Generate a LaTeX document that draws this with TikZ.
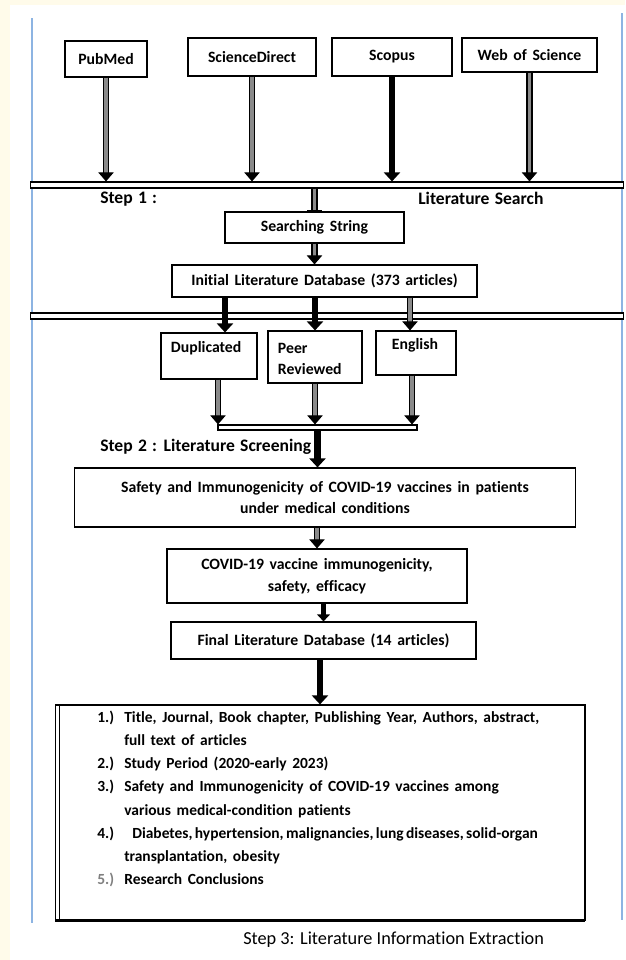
\documentclass[tikz,border=0pt]{standalone}
\usepackage{fontspec}
\setmainfont{Carlito}[Ligatures=NoCommon]
\usepackage{tikz}
\usetikzlibrary{arrows.meta, positioning, calc}
\definecolor{pageCream}{HTML}{FFFBEA}
\definecolor{frameBlue}{HTML}{8DB4E2}
\definecolor{shaftGray}{HTML}{8A8A8A}
\newcommand{\boxfont}{\fontsize{11.2}{15.5}\selectfont\bfseries\spaceskip=0.36em\relax}
\newcommand{\listfont}{\fontsize{11}{16.4}\selectfont\bfseries\spaceskip=0.36em\relax}
\newcommand{\stepfont}{\fontsize{12.5}{14}\selectfont\bfseries\spaceskip=0.3em\relax}

\begin{document}
\begin{tikzpicture}[
    x=0.025cm, y=-0.025cm,
    srcbox/.style={
        rectangle,
        draw=black,
        fill=white,
        line width=0.8pt,
        inner sep=0pt,
        align=center,
        font=\boxfont
    },
    filterbox/.style={
        rectangle,
        draw=black,
        fill=white,
        line width=0.8pt,
        inner xsep=0.25cm,
        inner ysep=0pt,
        align=left,
        font=\boxfont
    },
    splitbar/.style={
        rectangle,
        draw=black,
        fill=white,
        line width=0.8pt,
        inner sep=0pt,
        minimum height=0.15cm
    },
    steplabel/.style={
        anchor=west,
        inner sep=0pt,
        font=\stepfont
    },
    hollowarrow/.style={
        draw=black,
        line width=0.85pt,
        double=shaftGray,
        double distance=2.8pt,
        -{Triangle[width=11pt,length=6.5pt]}
    },
    solidarrow/.style={
        line width=4.6pt,
        -{Triangle[width=11.5pt,length=6.5pt]}
    }
]

% Page and frame
\useasboundingbox (0,0) rectangle (625,960);
\fill[pageCream] (0,0) rectangle (625,960);
\fill[white] (10,5) rectangle (625,960);
\draw[frameBlue, line width=1.4pt] (32,18) -- (32,923);
\draw[frameBlue, line width=1.4pt] (622,13) -- (622,920);

% Sources
\node[srcbox, minimum width=2.05cm, minimum height=0.9cm] (pubmed) at (106,59) {PubMed};
\node[srcbox, minimum width=3.2cm, minimum height=0.95cm] (scidirect) at (252,57) {ScienceDirect};
\node[srcbox, minimum width=3.0cm, minimum height=0.95cm] (scopus) at (392,57) {Scopus};
\node[srcbox, minimum width=3.375cm, minimum height=0.85cm] (wos) at (529.5,55) {Web of Science};

% Bars
\node[splitbar, minimum width=14.8cm] (bar1) at (327,185) {};
\node[splitbar, minimum width=14.8cm] (bar2) at (327,316) {};
\node[splitbar, minimum width=4.975cm, minimum height=0.125cm] (bar3) at (317.5,427.5) {};

% Step 1
\node[steplabel] (step1) at (100,199) {Step 1 :};
\node[steplabel] (search1) at (418,198) {Literature Search};

\node[srcbox, minimum width=4.475cm, minimum height=0.775cm] (search) at (314.5,227.5) {Searching String};
\node[srcbox, minimum width=7.625cm, minimum height=0.8cm] (initial) at (324.5,281) {Initial Literature Database (373 articles)};

% Filters
\node[filterbox, text width=1.9cm, text height=0.475cm, text depth=0.675cm] (duplicated) at (209,356) {Duplicated};
\node[filterbox, text width=1.85cm, text height=0.55cm, text depth=0.75cm] (peer) at (315,357) {Peer\\Reviewed};
\node[filterbox, inner xsep=0.4cm, text width=1.2cm, text height=0.45cm, text depth=0.65cm] (english) at (416,353) {English};

% Step 2
\node[steplabel] (step2) at (100,447) {Step 2 : Literature Screening};

\node[srcbox, minimum width=12.5cm, minimum height=1.475cm] (safety) at (325,497.5) {Safety and Immunogenicity of COVID-19 vaccines in patients\\under medical conditions};
\node[srcbox, minimum width=7.5cm, minimum height=1.35cm] (covid) at (317,576) {COVID-19 vaccine immunogenicity,\\safety, efficacy};
\node[srcbox, minimum width=7.625cm, minimum height=0.925cm] (final) at (323.5,640.5) {Final Literature Database (14 articles)};

% Step 3
\node[srcbox, minimum width=13.2cm, minimum height=5.375cm] (extract) at (320,812.5) {};
\draw[line width=0.8pt] ([xshift=0.1cm]extract.north west) -- ([xshift=0.1cm]extract.south west);
\draw[line width=2pt] (extract.south west) -- (extract.south east);
\draw[line width=1.4pt] (extract.south east) -- (extract.north east);
\node[anchor=north west, inner sep=0pt, align=left, font=\listfont] (items) at (97,711) {
\makebox[0.675cm][l]{1.)}Title, Journal, Book chapter, Publishing Year, Authors, abstract,\\
\hspace*{0.675cm}full text of articles\\
\makebox[0.675cm][l]{2.)}Study Period (2020-early 2023)\\
\makebox[0.675cm][l]{3.)}Safety and Immunogenicity of COVID-19 vaccines among\\
\hspace*{0.675cm}various medical-condition patients\\
\makebox[0.675cm][l]{4.)}\hspace{0.2cm}{\spaceskip=0.15em\relax Diabetes, hypertension, malignancies, lung diseases, solid-organ}\\
\hspace*{0.675cm}transplantation, obesity\\
\makebox[0.675cm][l]{\textcolor{gray}{5.)}}Research Conclusions
};
\node[anchor=west, inner sep=0pt, font=\fontsize{13}{15}\selectfont] (step3) at (243,940) {Step 3: Literature Information Extraction};

% Arrows into the first bar
\draw[hollowarrow] (pubmed.south) -- (pubmed.south |- bar1.north);
\draw[hollowarrow] (scidirect.south) -- (scidirect.south |- bar1.north);
\draw[solidarrow] (scopus.south) -- (scopus.south |- bar1.north);
\draw[hollowarrow] (wos.south) -- (wos.south |- bar1.north);

\draw[hollowarrow, -{Rectangle[width=10pt,length=1.2pt]}] (search.north |- bar1.south) -- (search.north);
\draw[hollowarrow] (search.south) -- (search.south |- initial.north);

% Arrows through the second bar
\draw[solidarrow] ([xshift=0.4cm]duplicated.north |- initial.south) -- ([xshift=0.4cm]duplicated.north);
\draw[solidarrow] (peer.north |- initial.south) -- (peer.north);
\draw[hollowarrow] ([xshift=-0.15cm]english.north |- initial.south) -- ([xshift=-0.15cm]english.north);

% Arrows into the third bar
\draw[hollowarrow] ([xshift=0.225cm]duplicated.south) -- ([xshift=0.225cm]duplicated.south |- bar3.north);
\draw[hollowarrow] (peer.south) -- (peer.south |- bar3.north);
\draw[hollowarrow] ([xshift=-0.1cm]english.south) -- ([xshift=-0.1cm]english.south |- bar3.north);

\draw[solidarrow] (bar3.south) -- (bar3.south |- safety.north);
\draw[hollowarrow] (covid.north |- safety.south) -- (covid.north);
\draw[solidarrow, line width=3.6pt, -{Triangle[width=9pt,length=5pt]}] (final.north |- covid.south) -- (final.north);
\draw[solidarrow] (extract.north |- final.south) -- (extract.north);

\end{tikzpicture}
\end{document}
